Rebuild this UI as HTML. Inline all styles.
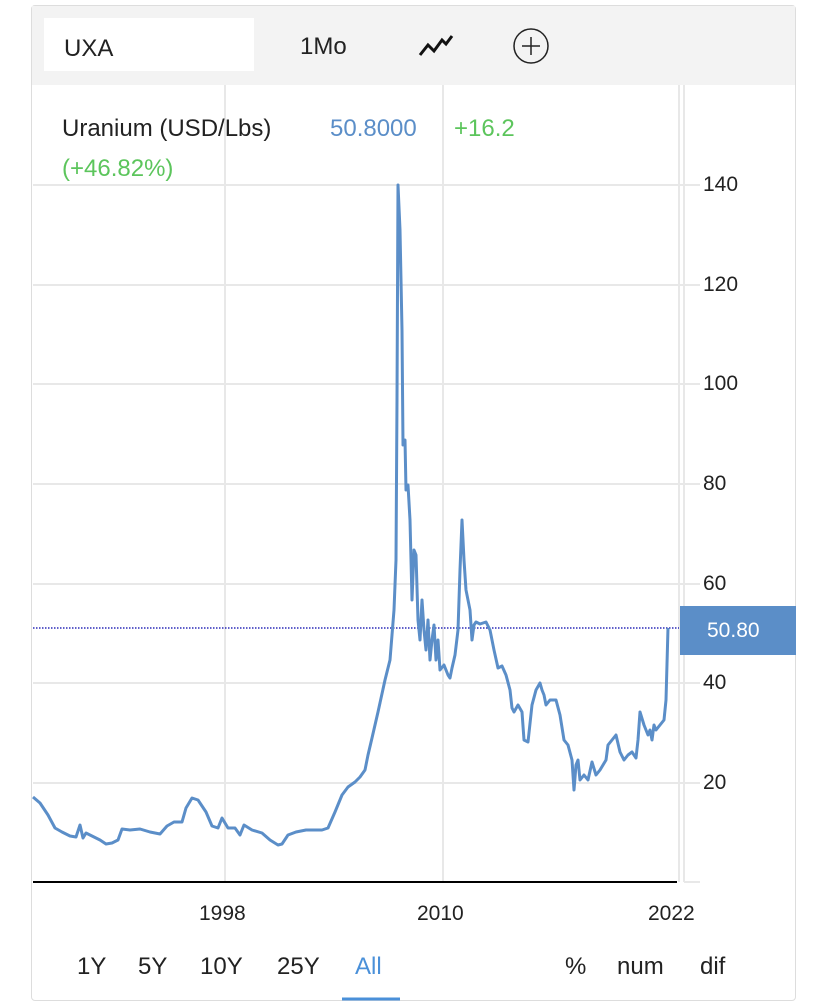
<!DOCTYPE html>
<html><head><style>
body{margin:0;width:828px;height:1007px;background:#fff;font-family:"Liberation Sans",sans-serif;position:relative;overflow:hidden}
.card{position:absolute;left:31px;top:5px;width:765px;height:996px;border:1px solid #ddd;border-radius:4px;box-sizing:border-box}
.hdr{position:absolute;left:32px;top:6px;width:763px;height:79px;background:#f3f3f3}
.t{position:absolute;font-size:24px;color:#222;white-space:nowrap}
</style></head><body>
<div class="card"></div>
<div class="hdr"></div>
<div style="position:absolute;left:44px;top:18px;width:210px;height:53px;background:#fff"></div>
<div class="t" style="left:64px;top:35px">UXA</div>
<div class="t" style="left:300px;top:33px">1Mo</div>
<svg style="position:absolute;left:0;top:0" width="828" height="1007">
<polyline points="420,55 428,45 434,51 442,40 446,44 452,36" fill="none" stroke="#111" stroke-width="3"/>
<circle cx="531" cy="46" r="17" fill="none" stroke="#222" stroke-width="1.5"/>
<line x1="522" y1="46" x2="540" y2="46" stroke="#222" stroke-width="1.5"/>
<line x1="531" y1="37" x2="531" y2="55" stroke="#222" stroke-width="1.5"/>
<g stroke="#e8e8e8" stroke-width="2">
<line x1="225" y1="85" x2="225" y2="882"/><line x1="443" y1="85" x2="443" y2="882"/><line x1="679" y1="85" x2="679" y2="882"/>
<line x1="684" y1="85" x2="684" y2="882"/>
<line x1="33" y1="185" x2="700" y2="185"/><line x1="33" y1="285" x2="700" y2="285"/><line x1="33" y1="384" x2="700" y2="384"/><line x1="33" y1="484" x2="700" y2="484"/><line x1="33" y1="584" x2="700" y2="584"/><line x1="33" y1="683" x2="700" y2="683"/><line x1="33" y1="783" x2="700" y2="783"/><line x1="684" y1="882" x2="700" y2="882"/>
</g>
<line x1="33" y1="882" x2="677" y2="882" stroke="#000" stroke-width="2"/>
<line x1="33" y1="628" x2="679" y2="628" stroke="#00a" stroke-width="1.2" stroke-dasharray="1.5,1.5"/>
<polyline fill="none" stroke="#5b8ec8" stroke-width="3" stroke-linejoin="round" points="33,797 40,803 48,815 55,828 62,832 70,836 76,837 80,825 83,838 86,833 92,836 100,840 106,844 112,843 118,840 122,829 130,830 140,829 150,832 160,834 167,826 174,822 182,822 186,808 192,798 198,800 206,812 212,826 218,828 222,818 228,828 235,828 240,835 244,825 252,830 262,833 270,840 278,845 282,844 288,835 296,832 306,830 316,830 322,830 328,828 335,812 342,795 348,787 355,782 360,777 365,770 368,755 372,738 378,712 385,680 390,660 394,610 396,560 397,400 398,185 400,230 402,330 403,445 405,440 406,490 408,485 410,520 412,600 414,550 416,555 418,620 420,640 422,600 424,630 426,650 428,620 430,660 432,640 434,625 436,660 438,640 440,670 444,665 448,675 450,678 452,668 455,655 458,630 460,570 462,520 464,560 466,590 468,600 470,610 472,640 474,625 476,622 480,624 486,622 490,630 494,650 498,668 502,666 506,675 510,690 512,708 514,712 518,705 522,712 524,740 528,742 532,705 536,690 540,683 542,690 544,695 546,705 550,700 556,700 560,715 564,740 568,745 572,760 574,790 576,765 578,760 580,780 584,775 588,780 592,762 596,775 600,770 606,760 608,745 612,740 616,735 620,752 624,760 628,755 632,752 636,758 638,740 640,712 644,725 648,735 650,730 652,740 654,725 656,730 660,725 664,720 666,700 668,628"/>
<rect x="680" y="606" width="116" height="49" fill="#5b8ec8"/>
<line x1="342" y1="999" x2="400" y2="999" stroke="#4a90d9" stroke-width="3"/>
</svg>
<div class="t" style="left:62px;top:115px">Uranium (USD/Lbs)</div>
<div class="t" style="left:330px;top:115px;color:#5b8ec8">50.8000</div>
<div class="t" style="left:454px;top:115px;color:#5cc55c">+16.2</div>
<div class="t" style="left:62px;top:155px;color:#5cc55c">(+46.82%)</div>
<div class="t" style="left:703px;top:173px;font-size:21px">140</div>
<div class="t" style="left:703px;top:273px;font-size:21px">120</div>
<div class="t" style="left:703px;top:372px;font-size:21px">100</div>
<div class="t" style="left:703px;top:472px;font-size:21px">80</div>
<div class="t" style="left:703px;top:572px;font-size:21px">60</div>
<div class="t" style="left:703px;top:671px;font-size:21px">40</div>
<div class="t" style="left:703px;top:771px;font-size:21px">20</div>
<div class="t" style="left:707px;top:619px;font-size:21px;color:#fff">50.80</div>
<div class="t" style="left:199px;top:902px;font-size:21px">1998</div>
<div class="t" style="left:417px;top:902px;font-size:21px">2010</div>
<div class="t" style="left:648px;top:902px;font-size:21px">2022</div>
<div class="t" style="left:77px;top:953px">1Y</div>
<div class="t" style="left:138px;top:953px">5Y</div>
<div class="t" style="left:200px;top:953px">10Y</div>
<div class="t" style="left:277px;top:953px">25Y</div>
<div class="t" style="left:355px;top:953px;color:#4a90d9">All</div>
<div class="t" style="left:565px;top:953px">%</div>
<div class="t" style="left:617px;top:953px">num</div>
<div class="t" style="left:700px;top:953px">dif</div>
</body></html>
